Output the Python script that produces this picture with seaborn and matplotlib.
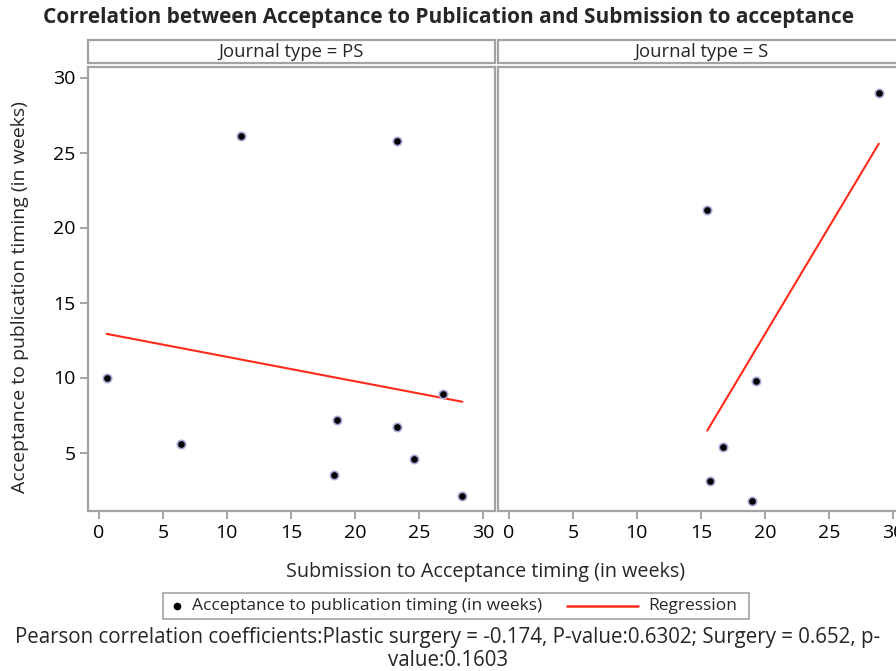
import numpy as np
import pandas as pd
import matplotlib
matplotlib.use("Agg")
import matplotlib.pyplot as plt
from matplotlib.lines import Line2D
from matplotlib.patches import Rectangle
import seaborn as sns

# ── Data ────────────────────────────────────────────────────────────────────
ps_sub = [0.6, 6.4, 11.1, 23.3, 18.6, 18.4, 23.3, 24.6, 26.9, 28.4]
ps_pub = [10.0, 5.6, 26.1, 25.8, 7.2, 3.5, 6.7, 4.6, 8.9, 2.1]
s_sub = [28.9, 15.5, 19.3, 16.7, 15.7, 19.0]
s_pub = [29.0, 21.2, 9.8, 5.4, 3.1, 1.8]
journal_types = ["PS", "S"]

df = pd.DataFrame({
    "sub_acc": ps_sub + s_sub,
    "acc_pub": ps_pub + s_pub,
    "jtype": ["PS"] * len(ps_sub) + ["S"] * len(s_sub),
})

sns.set_theme(style="white")
plt.rcParams["font.family"] = ["Open Sans", "DejaVu Sans"]

GRAY = "#a3a3a3"
RED = "#ff2a1a"

fig = plt.figure(figsize=(8.96, 6.71), dpi=100)
W, H = 896, 671

def fx(px):
    return px / W

def fy(py):
    return 1 - py / H

def px_axes(x0, y0, x1, y1):
    return fig.add_axes([fx(x0), fy(y1), (x1 - x0) / W, (y1 - y0) / H])

ax_l = px_axes(88, 67, 495, 511)
ax_r = px_axes(498, 67, 905, 511)

for ax, jt in zip([ax_l, ax_r], journal_types):
    sub = df[df["jtype"] == jt]
    sns.regplot(data=sub, x="sub_acc", y="acc_pub", ax=ax, ci=None, scatter=False,
                line_kws=dict(color=RED, linewidth=1.5))
    sns.scatterplot(data=sub, x="sub_acc", y="acc_pub", ax=ax, color="black",
                    edgecolor="#a9a9d8", linewidth=1.2, s=36, zorder=3)
    ax.set_xlim(-0.85, 30.95)
    ax.set_ylim(1.1, 30.7)
    ax.set_xticks(range(0, 31, 5))
    ax.set_yticks(range(5, 31, 5))
    ax.set_xlabel("")
    ax.set_ylabel("")
    for sp in ax.spines.values():
        sp.set_color(GRAY)
        sp.set_linewidth(1.6)
    ax.tick_params(axis="both", which="both", direction="out", length=6, width=1.4,
                   color=GRAY, labelsize=14, labelcolor="black", pad=3)
    ax.tick_params(left=True, bottom=True)
    # header strip
    ax.add_patch(Rectangle((0, 1.008), 1, 0.052, transform=ax.transAxes,
                           facecolor="white", edgecolor=GRAY, linewidth=1.6,
                           clip_on=False))
    ax.text(0.5, 1.034, f"Journal type = {jt}", transform=ax.transAxes,
            ha="center", va="center", fontsize=13.3)

ax_r.tick_params(axis="y", left=False, labelleft=False)

fig.text(0.5, fy(18), "Correlation between Acceptance to Publication and Submission to acceptance",
         ha="center", va="center", fontsize=15, fontweight="bold")
fig.text(fx(20), fy(297), "Acceptance to publication timing (in weeks)",
         rotation=90, ha="center", va="center", fontsize=14)
fig.text(fx(486), fy(572), "Submission to Acceptance timing (in weeks)",
         ha="center", va="center", fontsize=14.2)

# legend box drawn by hand to match the SAS layout
fig.add_artist(Rectangle((fx(163), fy(619)), (749 - 163) / W, (619 - 593) / H,
                         transform=fig.transFigure, facecolor="white",
                         edgecolor=GRAY, linewidth=1.2))
fig.add_artist(Line2D([fx(177)], [fy(606)], transform=fig.transFigure,
                      marker="o", color="black", markersize=4.5, linestyle=""))
fig.text(fx(192), fy(606), "Acceptance to publication timing (in weeks)",
         ha="left", va="center", fontsize=12.5)
fig.add_artist(Line2D([fx(567), fx(638)], [fy(606), fy(606)],
                      transform=fig.transFigure, color=RED, linewidth=1.8))
fig.text(fx(648), fy(606), "Regression", ha="left", va="center", fontsize=12.5)

fig.text(fx(448), fy(637),
         "Pearson correlation coefficients:Plastic surgery = -0.174, P-value:0.6302; Surgery = 0.652, p-",
         ha="center", va="center", fontsize=14.8)
fig.text(fx(448), fy(660), "value:0.1603", ha="center", va="center", fontsize=14.8)

fig.savefig("out.png", dpi=100)
